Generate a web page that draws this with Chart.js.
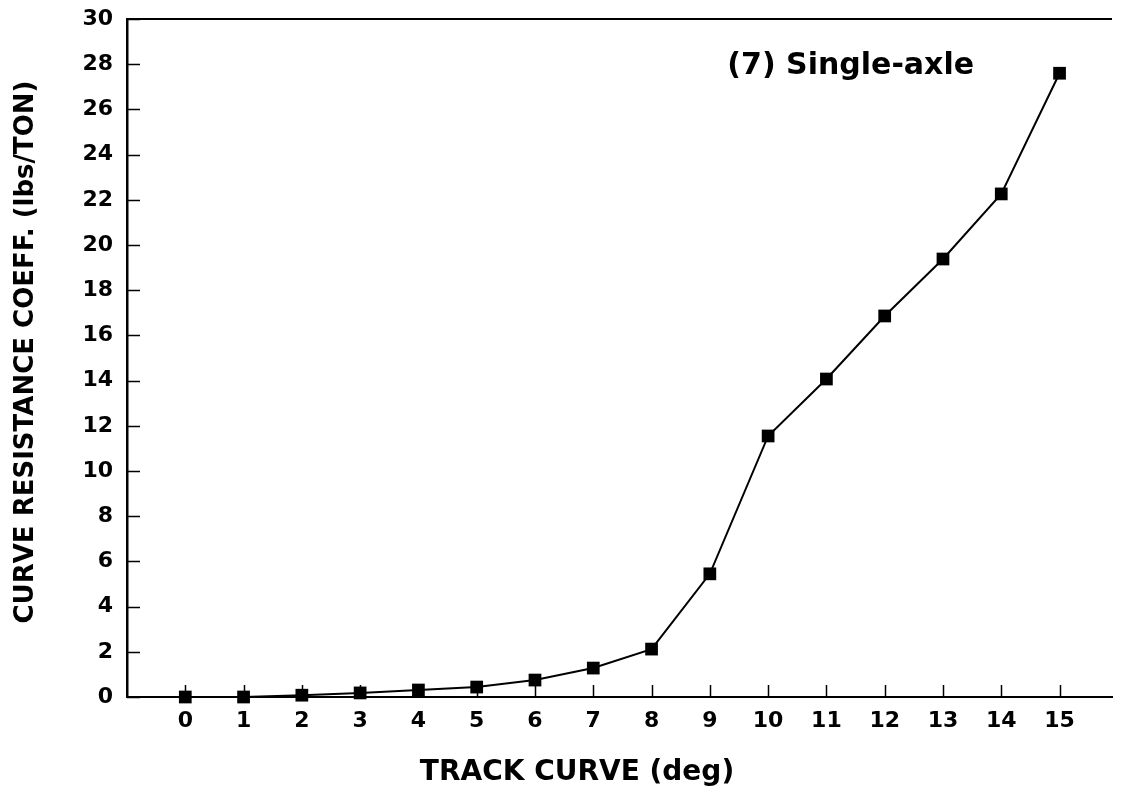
<!DOCTYPE html>
<html>
<head>
<meta charset="utf-8">
<title>Curve resistance - single-axle</title>
<script src="https://cdn.jsdelivr.net/npm/chart.js@4/dist/chart.umd.min.js"></script>
<style>
    html, body { margin: 0; padding: 0; background: #fff; }
    #wrap { width: 1121px; height: 794px; position: relative; }
</style>
</head>
<body>
<div id="wrap"><canvas id="curveChart"></canvas></div>
<script>
// data
const trackCurve = [0, 1, 2, 3, 4, 5, 6, 7, 8, 9, 10, 11, 12, 13, 14, 15];
const resistance = [0, 0, 0.08, 0.18, 0.31, 0.44, 0.75, 1.28, 2.12, 5.45, 11.55, 14.07, 16.86, 19.38, 22.26, 27.6];
const xTickValues = [0, 1, 2, 3, 4, 5, 6, 7, 8, 9, 10, 11, 12, 13, 14, 15];
const yTickValues = [0, 2, 4, 6, 8, 10, 12, 14, 16, 18, 20, 22, 24, 26, 28, 30];

const xTitle = 'TRACK CURVE (deg)';
const yTitle = 'CURVE RESISTANCE COEFF. (lbs/TON)';
const seriesLabel = '(7) Single-axle';

const FONT = "'DejaVu Sans', 'Liberation Sans', Arial, sans-serif";

// inward tick marks, top frame line, axis titles and the series note
const axisMarks = {
    id: 'axisMarks',
    afterDraw(chart) {
        const { ctx, chartArea: a, scales: { x, y } } = chart;
        ctx.save();
        ctx.strokeStyle = '#000';
        ctx.lineWidth = 1.5;
        ctx.beginPath();
        yTickValues.forEach(v => {
            const py = Math.round(y.getPixelForValue(v)) + 0.5;
            ctx.moveTo(a.left, py);
            ctx.lineTo(a.left + 13, py);
        });
        xTickValues.forEach(v => {
            const px = Math.round(x.getPixelForValue(v)) + 0.5;
            ctx.moveTo(px, a.bottom);
            ctx.lineTo(px, a.bottom - 12);
        });
        ctx.stroke();

        ctx.lineWidth = 2;
        ctx.beginPath();
        ctx.moveTo(a.left, a.top);
        ctx.lineTo(a.right, a.top);
        ctx.stroke();

        ctx.fillStyle = '#000';
        ctx.textAlign = 'center';
        ctx.textBaseline = 'alphabetic';

        // x title
        ctx.font = 'bold 28px ' + FONT;
        ctx.fillText(xTitle, 577, 780);

        // y title
        ctx.save();
        ctx.translate(33, 352);
        ctx.rotate(-Math.PI / 2);
        ctx.font = 'bold 26px ' + FONT;
        ctx.fillText(yTitle, 0, 0);
        ctx.restore();

        // series note
        ctx.textAlign = 'left';
        ctx.font = 'bold 30px ' + FONT;
        ctx.fillText(seriesLabel, x.getPixelForValue(9.3), y.getPixelForValue(27.55));
        ctx.restore();
    }
};

const points = trackCurve.map((d, i) => ({ x: d, y: resistance[i] }));

new Chart(document.getElementById('curveChart'), {
    type: 'line',
    data: {
        datasets: [{
            label: seriesLabel,
            data: points,
            borderColor: '#000',
            backgroundColor: '#000',
            borderWidth: 2,
            pointStyle: 'rect',
            pointRadius: 9,
            pointBorderWidth: 0,
            pointHoverRadius: 9,
            tension: 0,
            clip: false
        }]
    },
    options: {
        responsive: true,
        maintainAspectRatio: false,
        animation: false,
        layout: {
            padding: { top: 19, right: 5, bottom: 0, left: 0 }
        },
        plugins: {
            legend: { display: false },
            tooltip: { enabled: false }
        },
        scales: {
            x: {
                type: 'linear',
                min: -1,
                max: 15.9,
                afterFit: scale => {
                    scale.height = 97;
                    scale.paddingLeft = 0;
                    scale.paddingRight = 0;
                },
                afterBuildTicks: scale => {
                    scale.ticks = [-1].concat(xTickValues).map(v => ({ value: v }));
                },
                grid: { display: false, drawTicks: false },
                border: { display: true, color: '#000', width: 2 },
                ticks: {
                    padding: 11,
                    color: '#000',
                    maxRotation: 0,
                    autoSkip: false,
                    font: { family: FONT, size: 22, weight: 'bold' },
                    callback: v => (v >= 0 ? String(v) : '')
                }
            },
            y: {
                min: 0,
                max: 30,
                afterFit: scale => {
                    scale.width = 127;
                    scale.paddingTop = 0;
                    scale.paddingBottom = 0;
                },
                afterBuildTicks: scale => {
                    scale.ticks = yTickValues.map(v => ({ value: v }));
                },
                grid: { display: false, drawTicks: false },
                border: { display: true, color: '#000', width: 2.5 },
                ticks: {
                    padding: 14,
                    color: '#000',
                    autoSkip: false,
                    font: { family: FONT, size: 22, weight: 'bold' }
                }
            }
        }
    },
    plugins: [axisMarks]
});
</script>
</body>
</html>
